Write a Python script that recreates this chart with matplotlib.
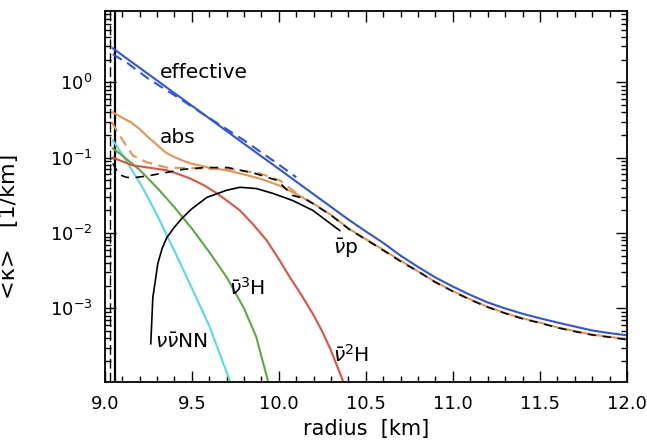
import numpy as np
import matplotlib
matplotlib.use("Agg")
import matplotlib.pyplot as plt
from matplotlib.ticker import MultipleLocator, LogLocator, NullFormatter, FormatStrFormatter

# values (radius in km, <kappa> in 1/km)
eff_r = [9.046, 9.20, 9.40, 9.60, 9.80, 10.0, 10.2, 10.4, 10.5, 10.6, 10.7, 10.8, 10.9, 11.0, 11.1, 11.2,
         11.3, 11.4, 11.5, 11.6, 11.7, 11.8, 11.9, 12.0]
eff_k = [2.83, 1.56, 0.72, 0.333, 0.153, 0.071, 0.0327, 0.0151, 0.0105, 0.0074, 0.0050, 0.00355, 0.00257,
         0.00195, 0.00151, 0.0012, 0.0010, 8.5e-4, 7.4e-4, 6.5e-4, 5.75e-4, 5.1e-4, 4.7e-4, 4.4e-4]

effd_r = [9.046, 9.132, 9.247, 9.42, 9.603, 9.80, 10.0, 10.10]
effd_k = [2.36, 1.79, 1.13, 0.63, 0.333, 0.17, 0.081, 0.055]

abs_r = [9.046, 9.10, 9.15, 9.20, 9.25, 9.30, 9.35, 9.40, 9.45, 9.50, 9.60, 9.70, 9.80, 9.90, 10.0, 10.1,
         10.2, 10.3, 10.4, 10.5, 10.6, 10.7, 10.8, 10.9, 11.0, 11.1, 11.2, 11.3, 11.4, 11.5, 11.6, 11.7,
         11.8, 11.9, 12.0]
abs_k = [0.40, 0.34, 0.295, 0.24, 0.186, 0.148, 0.117, 0.102, 0.091, 0.083, 0.074, 0.068, 0.060, 0.052,
         0.043, 0.033, 0.0245, 0.0174, 0.0115, 0.0083, 0.0060, 0.0043, 0.0031, 0.00224, 0.0017, 0.00132,
         0.00105, 8.7e-4, 7.4e-4, 6.5e-4, 5.6e-4, 5.0e-4, 4.5e-4, 4.2e-4, 3.9e-4]

absd_r = [9.04, 9.103, 9.161, 9.24, 9.356, 9.546, 9.736, 9.89, 10.006, 10.10]
absd_k = [0.295, 0.17, 0.107, 0.087, 0.074, 0.072, 0.070, 0.062, 0.050, 0.034]

# black dashed: second nu-bar p model, runs on top of the abs curve beyond ~10.1 km
pd_r = [9.046, 9.08, 9.123, 9.161, 9.259, 9.45, 9.575, 9.707, 9.862, 9.99, 10.08, 10.15, 10.2, 10.3,
        10.4, 10.5, 10.6, 10.7, 10.8, 10.9, 11.0, 11.1, 11.2, 11.3, 11.4, 11.5, 11.6, 11.7, 11.8, 11.9, 12.0]
pd_k = [0.084, 0.060, 0.055, 0.054, 0.058, 0.070, 0.074, 0.074, 0.062, 0.050, 0.0316, 0.0285, 0.0243,
        0.0172, 0.0114, 0.0082, 0.0059, 0.0042, 0.0031, 0.00222, 0.00168, 0.0013, 0.00104, 8.6e-4, 7.3e-4,
        6.4e-4, 5.55e-4, 4.95e-4, 4.45e-4, 4.15e-4, 3.85e-4]

p_r = [9.264, 9.27, 9.276, 9.305, 9.33, 9.356, 9.40, 9.448, 9.50, 9.586, 9.70, 9.776, 9.87, 9.966,
       10.08, 10.195, 10.35]
p_k = [3.4e-4, 6.9e-4, 1.4e-3, 4.0e-3, 6.3e-3, 8.7e-3, 0.012, 0.0161, 0.021, 0.0297, 0.037, 0.0405,
       0.039, 0.0336, 0.027, 0.020, 0.0108]

h2_r = [9.046, 9.161, 9.25, 9.356, 9.42, 9.49, 9.57, 9.644, 9.71, 9.776, 9.85, 9.93, 10.0, 10.063,
        10.13, 10.195, 10.25, 10.293, 10.368]
h2_k = [0.10, 0.079, 0.074, 0.068, 0.061, 0.053, 0.043, 0.0337, 0.026, 0.020, 0.0132, 0.0080, 0.0045,
        0.0026, 0.0015, 8.5e-4, 4.9e-4, 3.0e-4, 1.1e-4]

h3_r = [9.046, 9.10, 9.20, 9.30, 9.40, 9.50, 9.60, 9.70, 9.80, 9.87, 9.937]
h3_k = [0.133, 0.107, 0.069, 0.040, 0.022, 0.0115, 0.0056, 0.0026, 0.0010, 4.2e-4, 1.1e-4]

nn_r = [9.046, 9.10, 9.15, 9.20, 9.25, 9.30, 9.35, 9.40, 9.50, 9.60, 9.718]
nn_k = [0.17, 0.11, 0.072, 0.047, 0.029, 0.0174, 0.010, 0.0058, 0.00186, 5.9e-4, 1.1e-4]

BLUE = "#2f55e0"
ORANGE = "#e8934e"
RED = "#e2513f"
GREEN = "#5aab3e"
CYAN = "#55dbe6"

plt.rcParams["font.family"] = "DejaVu Sans"
plt.rcParams["mathtext.fontset"] = "dejavusans"

fig = plt.figure(figsize=(6.47, 4.47), dpi=100)
ax = fig.add_axes([0.162, 0.145, 0.807, 0.830])

lw = 1.5
ax.axvline(9.03, color="k", lw=1.0, ls=(0, (7, 3)))
ax.axvline(9.058, color="k", lw=1.6)
ax.plot(nn_r, nn_k, color=CYAN, lw=lw)
ax.plot(h3_r, h3_k, color=GREEN, lw=lw)
ax.plot(h2_r, h2_k, color=RED, lw=lw)
ax.plot(p_r, p_k, color="k", lw=1.2)
ax.plot(abs_r, abs_k, color=ORANGE, lw=lw)
ax.plot(absd_r, absd_k, color=ORANGE, lw=lw, ls=(0, (5, 3)))
ax.plot(pd_r, pd_k, color="k", lw=1.2, ls=(0, (5, 4)))
ax.plot(eff_r, eff_k, color=BLUE, lw=lw)
ax.plot(effd_r, effd_k, color=BLUE, lw=lw, ls=(0, (5, 3)))

ax.set_yscale("log")
ax.set_xlim(9.0, 12.0)
ax.set_ylim(1.05e-4, 8.8)

fs = 14.5
ax.text(9.316, 1.36, "effective", fontsize=fs, va="center")
ax.text(9.316, 0.186, "abs", fontsize=fs, va="center")
ax.text(10.31, 0.0063, r"$\bar{\nu}\mathrm{p}$", fontsize=fs, va="center")
ax.text(9.715, 0.0019, r"$\bar{\nu}^3\mathrm{H}$", fontsize=fs, va="center")
ax.text(10.31, 2.4e-4, r"$\bar{\nu}^2\mathrm{H}$", fontsize=fs, va="center")
ax.text(9.29, 3.5e-4, r"$\nu\bar{\nu}\mathrm{NN}$", fontsize=fs, va="center")

ax.xaxis.set_major_locator(MultipleLocator(0.5))
ax.xaxis.set_minor_locator(MultipleLocator(0.1))
ax.xaxis.set_major_formatter(FormatStrFormatter("%.1f"))
ax.yaxis.set_major_locator(LogLocator(base=10, numticks=10))
ax.yaxis.set_minor_locator(LogLocator(base=10, subs=np.arange(2, 10), numticks=10))
ax.yaxis.set_minor_formatter(NullFormatter())
ax.tick_params(which="both", direction="in", top=True, right=True, width=1.0)
ax.tick_params(which="major", length=8, labelsize=13, pad=9)
ax.tick_params(which="minor", length=4)
for s in ax.spines.values():
    s.set_linewidth(1.3)

ax.set_xlabel("radius  [km]", fontsize=15)
ax.set_ylabel("<\u03ba>   [1/km]", fontsize=16)
ax.xaxis.set_label_coords(0.5, -0.10)
ax.yaxis.set_label_coords(-0.165, 0.42)

fig.savefig("out.png", dpi=100)
